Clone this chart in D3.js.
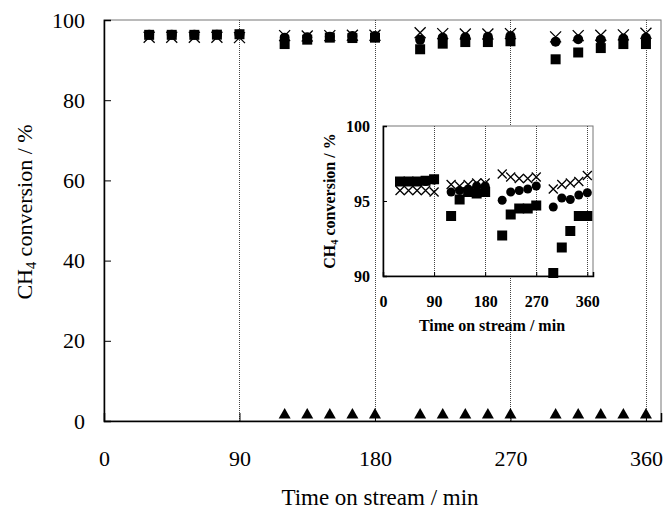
<!DOCTYPE html>
<html>
<head>
<meta charset="utf-8">
<script src="https://cdn.jsdelivr.net/npm/d3@7"></script>
<style>
  body { margin: 0; background: #fff; }
  svg { display: block; font-family: "Liberation Serif", "Times New Roman", serif; }
</style>
</head>
<body>
<div id="chart"></div>
<script>
	// time on stream, min
	const times = [30, 45, 60, 75, 90, 120, 135, 150, 165, 180, 210, 225, 240, 255, 270, 300, 315, 330, 345, 360];
	// CH4 conversion, %
	const squares = [96.3, 96.3, 96.3, 96.35, 96.45, 94.0, 95.1, 95.6, 95.5, 95.6, 92.7, 94.1, 94.5, 94.5, 94.7, 90.2, 91.9, 93.0, 94.0, 94.0];
	const circles = [96.3, 96.3, 96.3, 96.3, 96.4, 95.6, 95.7, 95.8, 96.0, 96.0, 95.05, 95.6, 95.7, 95.8, 96.0, 94.6, 95.2, 95.1, 95.4, 95.55];
	const crosses = [95.7, 95.7, 95.7, 95.7, 95.6, 96.1, 96.0, 96.1, 96.2, 96.2, 96.8, 96.6, 96.5, 96.5, 96.6, 95.8, 96.1, 96.2, 96.3, 96.7];
	const triTimes = [120, 135, 150, 165, 180, 210, 225, 240, 255, 270, 300, 315, 330, 345, 360];
	const triangles = [1.5, 1.5, 1.5, 1.5, 1.5, 1.5, 1.5, 1.5, 1.5, 1.5, 1.5, 1.5, 1.5, 1.5, 1.5];
	const xTicks = [0, 90, 180, 270, 360];
	const yTicksMain = [0, 20, 40, 60, 80, 100];
	const yTicksInset = [90, 95, 100];
	const breaks = [90, 180, 270, 360];

	const W = 668, H = 509;
	const svg = d3.select("#chart").append("svg").attr("width", W).attr("height", H);

	/*============= main plot ===============*/
	const main = {left: 104, right: 661, top: 20, bottom: 421};
	const x = d3.scaleLinear().domain([0, 370]).range([main.left, main.right]);
	const y = d3.scaleLinear().domain([0, 100]).range([main.bottom, main.top]);

	drawFrame(svg, main, x, y, breaks);

	const gxMain = svg.append("g").attr("transform", `translate(0,${main.bottom})`)
		.call(d3.axisBottom(x).tickValues(xTicks).tickSize(-8).tickPadding(29).tickFormat(d3.format("d")));
	const gyMain = svg.append("g").attr("transform", `translate(${main.left},0)`)
		.call(d3.axisLeft(y).tickValues(yTicksMain).tickSize(-7).tickPadding(19));
	styleAxis(gxMain, 22, false);
	styleAxis(gyMain, 22, false);
	gxMain.selectAll(".tick line").filter(d => d === 0 || d > 360).remove();
	gyMain.selectAll(".tick line").filter(d => d === 0 || d === 100).remove();

	const series = d => times.map((t, i) => ({t, v: d[i]}));
	drawMarkers(svg, x, y, series(squares), "square", 10);
	drawMarkers(svg, x, y, series(circles), "circle", 10);
	drawMarkers(svg, x, y, series(crosses), "cross", 11);
	drawMarkers(svg, x, y, triTimes.map((t, i) => ({t, v: triangles[i]})), "triangle", 12);

	svg.append("text")
		.attr("x", 380).attr("y", 505)
		.attr("text-anchor", "middle").attr("font-size", 23)
		.text("Time on stream / min");

	yTitle(svg, 32, 212, 22, "normal");

	/*============= inset ===============*/
	const ins = {left: 383, right: 593, top: 126, bottom: 276};
	const xi = d3.scaleLinear().domain([0, 370]).range([ins.left, ins.right]);
	const yi = d3.scaleLinear().domain([90, 100]).range([ins.bottom, ins.top]);

	svg.append("rect")
		.attr("x", ins.left).attr("y", ins.top)
		.attr("width", ins.right - ins.left).attr("height", ins.bottom - ins.top)
		.attr("fill", "#fff");
	drawFrame(svg, ins, xi, yi, breaks);

	const gxIns = svg.append("g").attr("transform", `translate(0,${ins.bottom})`)
		.call(d3.axisBottom(xi).tickValues(xTicks).tickSize(-4).tickPadding(20));
	const gyIns = svg.append("g").attr("transform", `translate(${ins.left},0)`)
		.call(d3.axisLeft(yi).tickValues(yTicksInset).tickSize(-4).tickPadding(13));
	styleAxis(gxIns, 16, true);
	styleAxis(gyIns, 16, true);
	gxIns.selectAll(".tick line").filter(d => d === 0).remove();
	gyIns.selectAll(".tick line").filter(d => d === 90 || d === 100).remove();

	svg.append("clipPath").attr("id", "insClip").append("rect")
		.attr("x", ins.left - 8).attr("y", ins.top)
		.attr("width", ins.right - ins.left + 16).attr("height", ins.bottom - ins.top + 8);
	const gi = svg.append("g").attr("clip-path", "url(#insClip)");
	drawMarkers(gi, xi, yi, series(squares), "square", 10);
	drawMarkers(gi, xi, yi, series(circles), "circle", 9);
	drawMarkers(gi, xi, yi, series(crosses), "cross", 9);

	svg.append("text")
		.attr("x", 492).attr("y", 331)
		.attr("text-anchor", "middle").attr("font-size", 16).attr("font-weight", "bold")
		.text("Time on stream / min");

	yTitle(svg, 335, 201, 16, "bold");

	/*============= functions ===============*/
	function drawFrame(g, box, xs, ys, lines) {
		g.append("rect")
			.attr("x", box.left).attr("y", box.top)
			.attr("width", box.right - box.left).attr("height", box.bottom - box.top)
			.attr("fill", "none").attr("stroke", "#777").attr("stroke-width", 1);
		g.append("g").selectAll("line")
			.data(lines)
			.join("line")
			.attr("x1", d => Math.round(xs(d)) + 0.5).attr("x2", d => Math.round(xs(d)) + 0.5)
			.attr("y1", box.top).attr("y2", box.bottom)
			.attr("stroke", "#444").attr("stroke-width", 1).attr("stroke-dasharray", "1,1");
	}

	function styleAxis(g, size, bold) {
		g.select(".domain").attr("stroke", "#000").attr("stroke-width", 1.5);
		g.selectAll(".tick line").attr("stroke", "#000");
		g.selectAll(".tick text")
			.attr("font-family", "Liberation Serif, serif")
			.attr("font-size", size)
			.attr("font-weight", bold ? "bold" : "normal")
			.attr("fill", "#000");
	}

	function drawMarkers(g, xs, ys, data, shape, size) {
		const grp = g.append("g");
		if (shape === "cross") {
			const h = size / 2;
			grp.selectAll("path").data(data).join("path")
				.attr("d", d => {
					const cx = xs(d.t), cy = ys(d.v);
					return `M${cx - h},${cy - h}L${cx + h},${cy + h}M${cx - h},${cy + h}L${cx + h},${cy - h}`;
				})
				.attr("stroke", "#000").attr("stroke-width", 1.3).attr("fill", "none");
			return;
		}
		const sym = {square: d3.symbolSquare, circle: d3.symbolCircle, triangle: d3.symbolTriangle}[shape];
		const area = shape === "circle" ? Math.PI * (size / 2) ** 2
			: shape === "square" ? size * size
			: size * size * Math.sqrt(3) / 4;
		grp.selectAll("path").data(data).join("path")
			.attr("transform", d => `translate(${xs(d.t)},${ys(d.v)})`)
			.attr("d", d3.symbol(sym, area))
			.attr("fill", "#000");
	}

	function yTitle(g, cx, cy, size, weight) {
		const t = g.append("text")
			.attr("transform", `translate(${cx},${cy}) rotate(-90)`)
			.attr("text-anchor", "middle")
			.attr("font-size", size).attr("font-weight", weight);
		t.append("tspan").text("CH");
		t.append("tspan").attr("font-size", size * 0.65).attr("dy", size * 0.2).text("4");
		t.append("tspan").attr("dy", -size * 0.2).text(" conversion / %");
	}
</script>
</body>
</html>
